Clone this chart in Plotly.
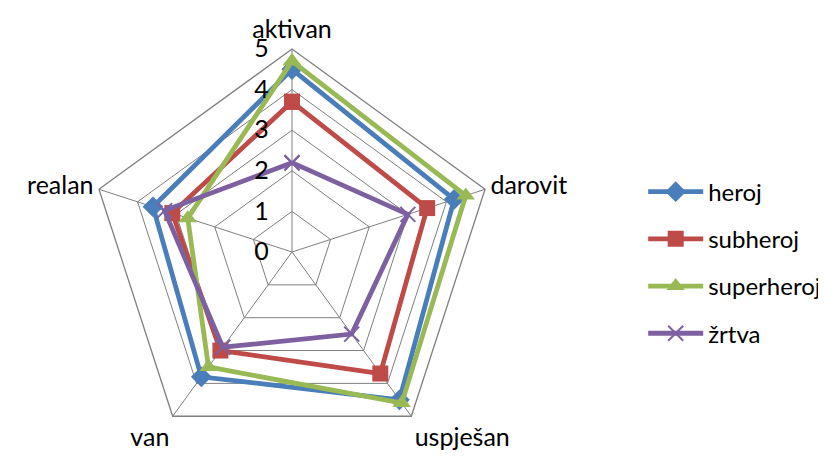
import plotly.graph_objects as go

categories = ["aktivan", "darovit", "uspješan", "van", "realan"]
series_names = ["heroj", "subheroj", "superheroj", "žrtva"]
heroj = [4.5, 4.2, 4.5, 3.8, 3.6]
subheroj = [3.7, 3.5, 3.7, 3.0, 3.1]
superheroj = [4.7, 4.5, 4.6, 3.5, 2.7]
zrtva = [2.2, 3.0, 2.5, 2.9, 3.3]
radial_ticks = [0, 1, 2, 3, 4, 5]

colors = ["#4A7EBB", "#BE4B48", "#98B954", "#7D60A0"]
symbols = ["diamond", "square", "triangle-up", "x-thin"]
sizes = [16, 16, 16, 15]
values = [heroj, subheroj, superheroj, zrtva]

FONT = "Lato"
FS = 25
fig = go.Figure()
for i, (name, vals) in enumerate(zip(series_names, values)):
    marker = dict(symbol=symbols[i], size=sizes[i], color=colors[i])
    if symbols[i] == "x-thin":
        marker["line"] = dict(color=colors[i], width=2)
    fig.add_trace(go.Scatterpolar(
        r=vals + vals[:1],
        theta=categories + categories[:1],
        mode="lines+markers",
        name=name,
        legendgroup=name,
        line=dict(color=colors[i], width=4.8),
        marker=marker,
        cliponaxis=False,
    ))

r_px = 203
W, H = 826, 459
cx = 284
bottom_off = 12
fig.update_layout(
    width=W, height=H,
    margin=dict(l=0, r=0, t=0, b=0),
    paper_bgcolor="white",
    plot_bgcolor="white",
    font=dict(family=FONT, size=FS, color="black"),
    polar=dict(
        domain=dict(x=[(cx - r_px) / W, (cx + r_px) / W],
                    y=[bottom_off / H, (bottom_off + 2 * r_px) / H]),
        gridshape="linear",
        bgcolor="white",
        radialaxis=dict(
            range=[0, 5],
            tickvals=radial_ticks,
            ticktext=[str(t) for t in radial_ticks],
            angle=90,
            tickangle=90,
            side="counterclockwise",
            showline=False,
            gridcolor="#7f7f7f",
            gridwidth=1.3,
            ticks="outside",
            ticklen=14,
            tickcolor="rgba(0,0,0,0)",
            tickfont=dict(family=FONT, size=FS),
        ),
        angularaxis=dict(
            categoryorder="array",
            categoryarray=categories,
            rotation=90,
            direction="clockwise",
            showline=True,
            linecolor="#7f7f7f",
            linewidth=1.3,
            gridcolor="#7f7f7f",
            gridwidth=1.3,
            ticks="",
            tickfont=dict(family=FONT, size=FS),
        ),
    ),
    legend=dict(
        x=0.769, y=0.648, xanchor="left", yanchor="top",
        font=dict(family=FONT, size=24),
        tracegroupgap=13,
        itemwidth=55,
        bgcolor="rgba(0,0,0,0)",
    ),
    showlegend=True,
)
fig.write_html("out.html")
